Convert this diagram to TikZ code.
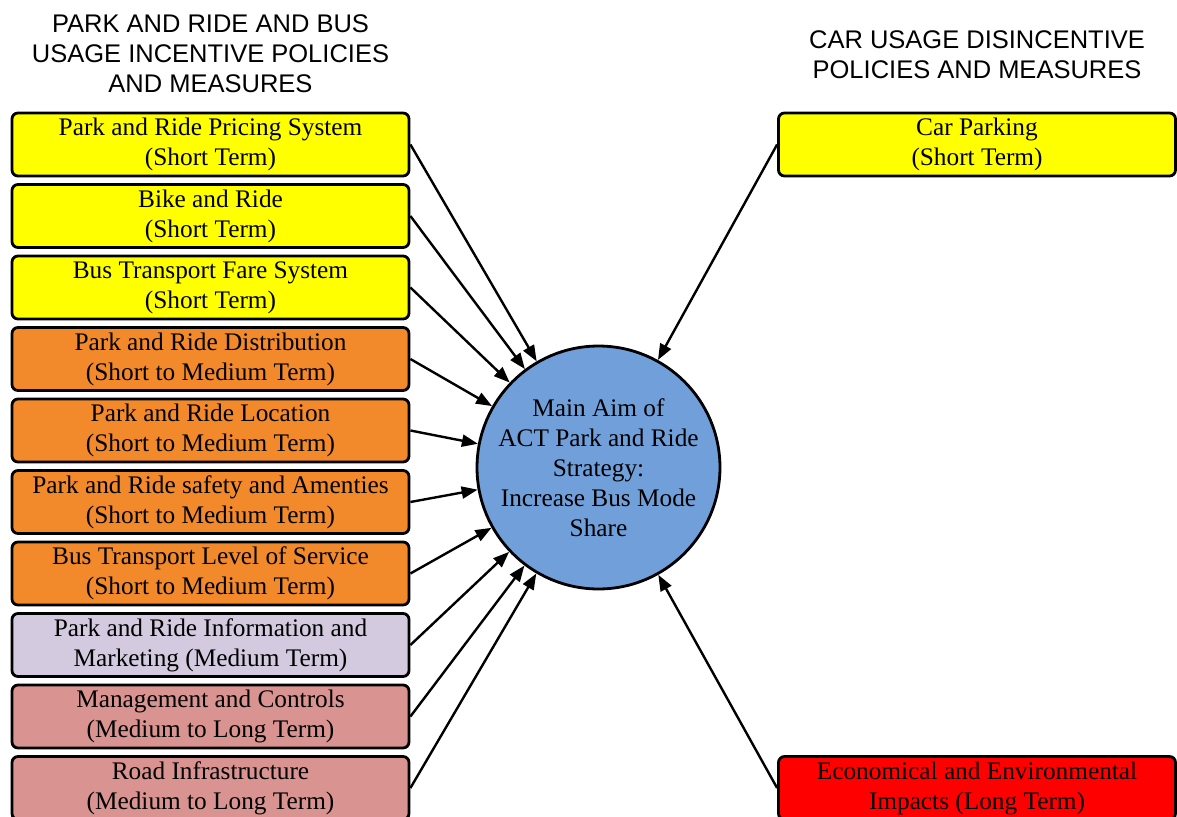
\documentclass[tikz,border=0pt]{standalone}
\usepackage{fontspec}
\setmainfont{Liberation Serif}
\newfontfamily\headfont{Liberation Sans}
\usetikzlibrary{arrows.meta}
\definecolor{cyel}{RGB}{255,255,0}
\definecolor{corg}{RGB}{242,137,43}
\definecolor{clav}{RGB}{211,202,223}
\definecolor{cpink}{RGB}{217,148,145}
\definecolor{cred}{RGB}{255,0,0}
\definecolor{cblue}{RGB}{112,159,218}
\begin{document}
\begin{tikzpicture}[x=1pt,y=-1pt,
  box/.style={draw=black, line width=2.8pt, rounded corners=6pt, minimum width=397pt, minimum height=63pt, inner sep=0pt, align=center, font=\fontsize{25.3}{30}\selectfont},
  hdr/.style={align=center, inner sep=0pt, font=\headfont\fontsize{25.5}{30}\selectfont},
  arr/.style={line width=2.4pt, -{Triangle[length=16pt,width=12pt]}}]
\useasboundingbox (0,0) rectangle (1177,816);
\node[hdr] (h1) at (210.5,54) {PARK AND RIDE AND BUS\\USAGE INCENTIVE POLICIES\\AND MEASURES};
\node[hdr] (h2) at (977,55) {CAR USAGE DISINCENTIVE\\POLICIES AND MEASURES};
\node[box, fill=cyel] (b1) at (210.5,144.5) {Park and Ride Pricing System\\(Short Term)};
\node[box, fill=cyel] (b2) at (210.5,216) {Bike and Ride\\(Short Term)};
\node[box, fill=cyel] (b3) at (210.5,287.5) {Bus Transport Fare System\\(Short Term)};
\node[box, fill=corg] (b4) at (210.5,359) {Park and Ride Distribution\\(Short to Medium Term)};
\node[box, fill=corg] (b5) at (210.5,430.5) {Park and Ride Location\\(Short to Medium Term)};
\node[box, fill=corg] (b6) at (210.5,502) {Park and Ride safety and Amenties\\(Short to Medium Term)};
\node[box, fill=corg] (b7) at (210.5,573.5) {Bus Transport Level of Service\\(Short to Medium Term)};
\node[box, fill=clav] (b8) at (210.5,645) {Park and Ride Information and\\Marketing (Medium Term)};
\node[box, fill=cpink] (b9) at (210.5,716.5) {Management and Controls\\(Medium to Long Term)};
\node[box, fill=cpink] (b10) at (210.5,788) {Road Infrastructure\\(Medium to Long Term)};
\node[box, fill=cyel] (r1) at (977,144.5) {Car Parking\\(Short Term)};
\node[box, fill=cred] (r2) at (977,788) {Economical and Environmental\\Impacts (Long Term)};
\node[circle, draw=black, line width=2.8pt, fill=cblue, minimum size=231pt, inner sep=0pt, align=center, font=\fontsize{25.3}{30}\selectfont] (c) at (598.5,467.5) {Main Aim of\\ACT Park and Ride\\Strategy:\\Increase Bus Mode\\Share};
\foreach \b in {b1,b2,b3,b4,b5,b6,b7,b8,b9,b10}{
  \draw[arr] (\b.east) -- (c);
}
\draw[arr] (r1.west) -- (c);
\draw[arr] (r2.west) -- (c);
\end{tikzpicture}
\end{document}
